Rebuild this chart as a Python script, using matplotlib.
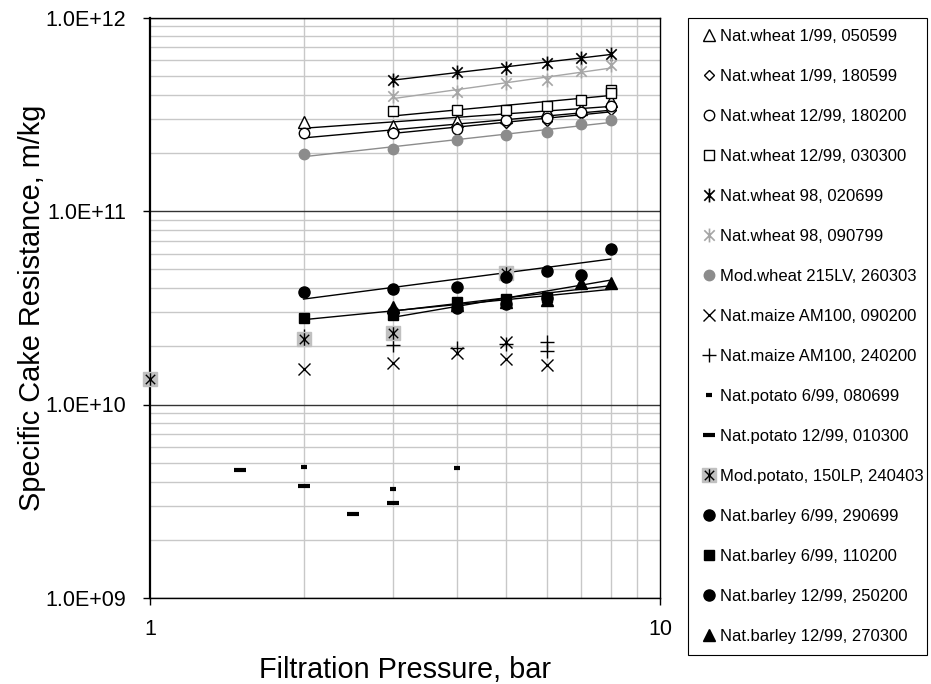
import numpy as np
import matplotlib
matplotlib.use("Agg")
import matplotlib.pyplot as plt
from matplotlib.path import Path
from matplotlib.ticker import LogLocator, FixedLocator, NullFormatter
from matplotlib.legend_handler import HandlerTuple

plt.rcParams['font.family'] = ['Liberation Sans', 'DejaVu Sans']

# ---- data (pressure in bar, resistance in m/kg)
wheat_050599_x = [2, 3, 4, 5, 6, 7, 8]
wheat_050599_y = [2.87e11, 2.76e11, 2.91e11, 3.06e11, 3.27e11, 3.37e11, 3.72e11]
wheat_180599_x = [3, 4, 5, 6, 7, 8]
wheat_180599_y = [2.55e11, 2.72e11, 2.85e11, 2.91e11, 3.19e11, 3.31e11]
wheat_180200_x = [2, 3, 4, 5, 6, 7, 8]
wheat_180200_y = [2.53e11, 2.53e11, 2.66e11, 2.97e11, 3.03e11, 3.24e11, 3.48e11]
wheat_030300_x = [3, 4, 5, 6, 7, 8, 8]
wheat_030300_y = [3.27e11, 3.31e11, 3.31e11, 3.48e11, 3.73e11, 4.24e11, 4.05e11]
wheat_020699_x = [3, 4, 5, 6, 7, 8]
wheat_020699_y = [4.78e11, 5.21e11, 5.49e11, 5.83e11, 6.19e11, 6.51e11]
wheat_090799_x = [3, 4, 5, 6, 7, 8]
wheat_090799_y = [3.95e11, 4.11e11, 4.56e11, 4.74e11, 5.27e11, 5.65e11]
modwheat_x = [2, 3, 4, 5, 6, 7, 8]
modwheat_y = [1.96e11, 2.09e11, 2.34e11, 2.48e11, 2.55e11, 2.80e11, 2.94e11]
maize_090200_x = [2, 3, 4, 5, 5, 6]
maize_090200_y = [1.52e10, 1.63e10, 1.84e10, 1.71e10, 2.11e10, 1.60e10]
maize_240200_x = [2, 3, 4, 5, 6, 6]
maize_240200_y = [2.25e10, 2.03e10, 1.95e10, 2.05e10, 2.11e10, 1.89e10]
potato_080699_x = [2, 3, 4]
potato_080699_y = [4.78e9, 3.66e9, 4.70e9]
potato_010300_x = [1.5, 2, 2.5, 3]
potato_010300_y = [4.61e9, 3.78e9, 2.72e9, 3.10e9]
modpotato_x = [1, 2, 3, 5]
modpotato_y = [1.35e10, 2.19e10, 2.33e10, 4.77e10]
barley_290699_x = [2, 3, 4, 5, 6, 8]
barley_290699_y = [3.82e10, 3.95e10, 4.06e10, 4.57e10, 4.89e10, 6.36e10]
barley_110200_x = [2, 3, 4, 5, 6]
barley_110200_y = [2.79e10, 2.90e10, 3.40e10, 3.53e10, 3.60e10]
barley_250200_x = [3, 4, 5, 6, 7]
barley_250200_y = [3.00e10, 3.14e10, 3.30e10, 3.55e10, 4.67e10]
barley_270300_x = [3, 4, 5, 6, 7, 8]
barley_270300_y = [3.20e10, 3.26e10, 3.40e10, 3.46e10, 4.23e10, 4.23e10]

y_ticks = [1e9, 1e10, 1e11, 1e12]
y_tick_labels = ['1.0E+09', '1.0E+10', '1.0E+11', '1.0E+12']
x_ticks = [1, 10]
x_tick_labels = ['1', '10']

# Excel style star: X with a vertical bar
star = Path([(0, -1), (0, 1), (-0.75, -0.75), (0.75, 0.75), (-0.75, 0.75), (0.75, -0.75)],
            [Path.MOVETO, Path.LINETO, Path.MOVETO, Path.LINETO, Path.MOVETO, Path.LINETO])

GRAY = '#8c8c8c'
LGRAY = '#a6a6a6'
BOX = '#c0c0c0'


def trend(ax, x, y, color, x_end=None):
    # power trendline (straight on log-log)
    lx, ly = np.log10(x), np.log10(y)
    k, b = np.polyfit(lx, ly, 1)
    xs = np.array([min(x), x_end or max(x)])
    ax.plot(xs, 10 ** (b + k * np.log10(xs)), color=color, lw=1.0, zorder=2)


fig = plt.figure(figsize=(9.31, 6.84), dpi=100)
ax = fig.add_axes([150 / 931, 1 - 598 / 684, 510 / 931, 580.5 / 684])

handles = []
labels = []

def series(x, y, label, line=None, x_end=None, **kw):
    h, = ax.plot(x, y, ls='none', zorder=3, **kw)
    if line:
        trend(ax, x, y, line, x_end)
    handles.append(h)
    labels.append(label)
    return h

series(wheat_050599_x, wheat_050599_y, 'Nat.wheat 1/99, 050599', 'black',
       marker='^', ms=9, mfc='white', mec='black', mew=1.0)
series(wheat_180599_x, wheat_180599_y, 'Nat.wheat 1/99, 180599', 'black',
       marker='D', ms=5, mfc='white', mec='black', mew=1.0)
series(wheat_180200_x, wheat_180200_y, 'Nat.wheat 12/99, 180200', 'black',
       marker='o', ms=7.5, mfc='white', mec='black', mew=1.0)
series(wheat_030300_x, wheat_030300_y, 'Nat.wheat 12/99, 030300', 'black',
       marker='s', ms=7, mfc='white', mec='black', mew=1.0)
series(wheat_020699_x, wheat_020699_y, 'Nat.wheat 98, 020699', 'black',
       marker=star, ms=10, color='black', mew=1.2)
series(wheat_090799_x, wheat_090799_y, 'Nat.wheat 98, 090799', LGRAY,
       marker=star, ms=10, color=LGRAY, mew=1.2)
series(modwheat_x, modwheat_y, 'Mod.wheat 215LV, 260303', GRAY,
       marker='o', ms=7.5, mfc=GRAY, mec=GRAY)
series(maize_090200_x, maize_090200_y, 'Nat.maize AM100, 090200',
       marker='x', ms=8.5, color='black', mew=1.0)
series(maize_240200_x, maize_240200_y, 'Nat.maize AM100, 240200',
       marker='+', ms=10, color='black', mew=1.0)
series(potato_080699_x, potato_080699_y, 'Nat.potato 6/99, 080699',
       marker='_', ms=4.5, color='black', mew=3)
series(potato_010300_x, potato_010300_y, 'Nat.potato 12/99, 010300',
       marker='_', ms=9, color='black', mew=3)

# grey box behind a star
hb, = ax.plot(modpotato_x, modpotato_y, ls='none', marker='s', ms=10, mfc=BOX,
              mec=BOX, zorder=3, clip_on=False)
hs, = ax.plot(modpotato_x, modpotato_y, ls='none', marker=star, ms=9, color='black',
              mew=1.0, zorder=4, clip_on=False)
handles.append((hb, hs))
labels.append('Mod.potato, 150LP, 240403')

series(barley_290699_x, barley_290699_y, 'Nat.barley 6/99, 290699', 'black',
       marker='o', ms=8, color='black')
series(barley_110200_x, barley_110200_y, 'Nat.barley 6/99, 110200', 'black', 8,
       marker='s', ms=7.5, color='black')
series(barley_250200_x, barley_250200_y, 'Nat.barley 12/99, 250200', 'black', 8,
       marker='o', ms=8, color='black')
series(barley_270300_x, barley_270300_y, 'Nat.barley 12/99, 270300', 'black',
       marker='^', ms=9, color='black')

ax.set_xscale('log')
ax.set_yscale('log')
ax.set_xlim(1, 10)
ax.set_ylim(1e9, 1e12)

ax.xaxis.set_major_locator(FixedLocator(x_ticks))
ax.set_xticklabels(x_tick_labels)
ax.xaxis.set_minor_locator(LogLocator(base=10, subs=np.arange(2, 10)))
ax.xaxis.set_minor_formatter(NullFormatter())
ax.yaxis.set_major_locator(FixedLocator(y_ticks))
ax.set_yticklabels(y_tick_labels)
ax.yaxis.set_minor_locator(LogLocator(base=10, subs=np.arange(2, 10)))
ax.yaxis.set_minor_formatter(NullFormatter())

ax.grid(True, which='minor', color='#c8c8c8', lw=1.0)
ax.grid(True, which='major', axis='y', color='#333333', lw=1.0)
ax.set_axisbelow(True)
ax.tick_params(which='minor', length=0)
ax.tick_params(which='major', direction='out', length=5, width=1, labelsize=15.5, pad=12)
ax.tick_params(axis='x', pad=10)
for s in ax.spines.values():
    s.set_color('black')
    s.set_linewidth(1.0)
ax.spines['left'].set_linewidth(1.6)

ax.set_xlabel('Filtration Pressure, bar', fontsize=20.8, labelpad=12)
ax.set_ylabel('Specific Cake Resistance, m/kg', fontsize=20.8, labelpad=0)

# legend box: x 688..927, top at 18 px
leg = fig.legend(handles, labels, loc='upper left', mode='expand',
                 bbox_to_anchor=(688 / 931, 0, 239 / 931, 1 - 18 / 684),
                 bbox_transform=fig.transFigure,
                 fontsize=12, frameon=True, fancybox=False, edgecolor='black',
                 framealpha=1, handlelength=1.2, handletextpad=0.1,
                 labelspacing=1.5, borderpad=0.65, borderaxespad=0,
                 handler_map={tuple: HandlerTuple(ndivide=1)})
leg.get_frame().set_linewidth(0.8)

fig.savefig('out.png', dpi=100)
